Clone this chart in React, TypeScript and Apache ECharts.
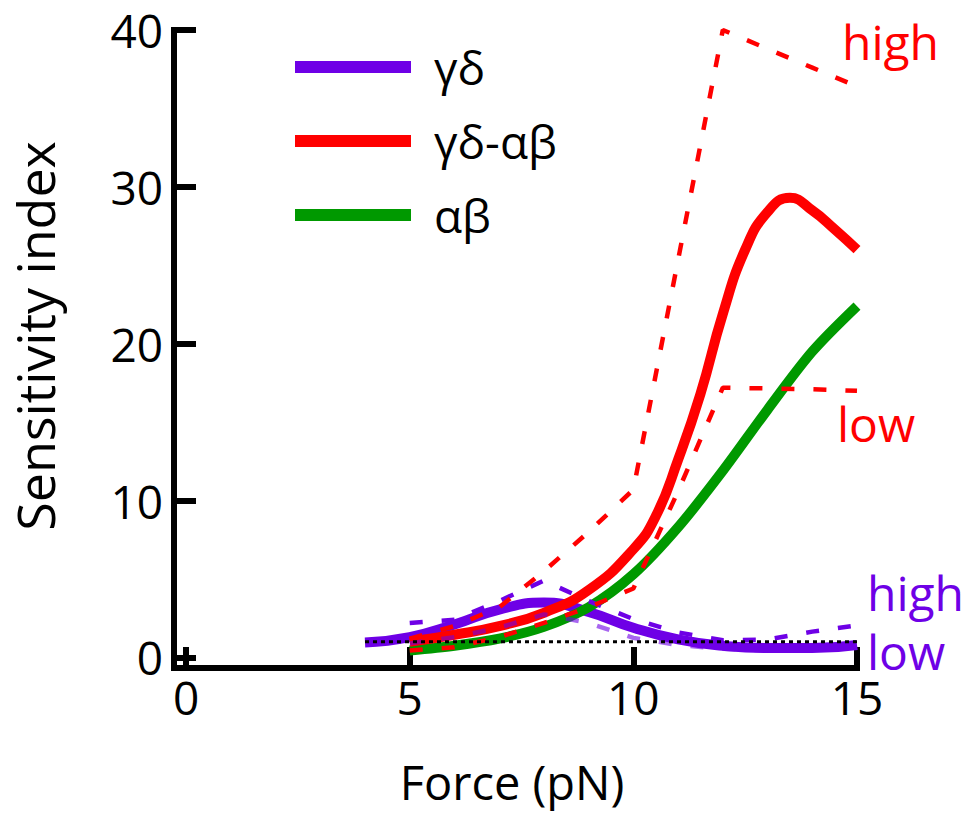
import React, { useEffect, useRef } from "react";
import * as echarts from "echarts";

// Force (pN) values
const forceX = [5, 6, 7, 8, 9, 10, 11, 12, 13, 14, 15];
const gdX = [4, 5, 6, 7, 8, 9, 10, 11, 12, 13, 14, 15];
const gdabX = [5, 6, 7, 8, 9, 10, 10.5, 11, 11.5, 12, 12.5, 13, 13.5, 14, 14.5, 15];

// Sensitivity index values
const gdMid = [0.95, 1.3, 2.1, 3.05, 3.5, 2.9, 1.9, 1.15, 0.75, 0.6, 0.6, 0.8];
const gdHigh = [2.2, 2.4, 3.6, 4.9, 3.6, 2.45, 1.6, 1.1, 1.15, 1.65, 2.05];
const gdLow = [0.9, 1.3, 1.9, 2.75, 2.2, 1.25, 0.8, 0.55, 0.45, 0.5, 0.7];
const gdabMid = [1.0, 1.45, 2.0, 2.85, 4.3, 6.9, 9.0, 12.6, 16.8, 21.9, 26.0, 28.4, 29.3, 28.5, 27.3, 26.0];
const gdabHigh = [1.2, 2.0, 3.2, 5.5, 8.0, 10.7, 25.35, 40, 38.8, 37.6, 36.4];
const gdabLow = [0.45, 0.65, 1.3, 2.2, 3.2, 4.4, 10.6, 17.2, 17.15, 17.1, 17.0];
const abMid = [0.45, 0.75, 1.2, 1.95, 3.2, 5.3, 8.3, 11.9, 15.8, 19.5, 22.4];
const baselineX = [4, 15];
const baselineY = [1, 1];

const xTicks = [0, 5, 10, 15];
const yTicks = [0, 10, 20, 30, 40];
const legendNames = ["γδ", "γδ-αβ", "αβ"];

const PURPLE = "#6E00E6";
const PURPLE_LIGHT = "rgba(110,0,230,0.6)";
const RED = "#FF0000";
const GREEN = "#009900";
const FONT = "Open Sans";

const pairs = (xs: number[], ys: number[]) => xs.map((x, i) => [x, ys[i]]);

export default function App() {
  const ref = useRef<HTMLDivElement>(null);
  useEffect(() => {
    document.body.style.margin = "0";
    const chart = echarts.init(ref.current!, null, { renderer: "svg" });
    const dash = [13, 19];
    const axisCommon = {
      type: "value" as const,
      axisLine: { show: true, onZero: false, lineStyle: { color: "#000", width: 6, cap: "square" } },
      splitLine: { show: false },
    };
    chart.setOption({
      animation: false,
      backgroundColor: "#fff",
      grid: { left: 174, right: 112, top: 30, bottom: 148, containLabel: false },
      xAxis: {
        ...axisCommon,
        min: -0.27,
        max: 15,
        axisTick: { show: true, inside: true, length: 21, customValues: xTicks, lineStyle: { color: "#000", width: 6 } },
        axisLabel: { customValues: xTicks, margin: 9, fontSize: 46, lineHeight: 40, color: "#000", fontFamily: FONT },
      },
      yAxis: {
        ...axisCommon,
        min: -0.67,
        max: 40,
        axisTick: { show: true, inside: true, length: 22, customValues: yTicks, lineStyle: { color: "#000", width: 6 } },
        axisLabel: { customValues: yTicks, margin: 11, fontSize: 46, lineHeight: 40, color: "#000", fontFamily: FONT },
      },
      legend: {
        data: legendNames,
        orient: "vertical",
        left: 295,
        top: 42,
        padding: 0,
        itemWidth: 134,
        itemHeight: 12,
        itemGap: 24,
        icon: "path://M0 0H116V12H0Z M134 0L134 12",
        itemStyle: { borderWidth: 0 },
        selectedMode: false,
        textStyle: { fontSize: 46, fontFamily: FONT, color: "#000", lineHeight: 50 },
      },
      graphic: [
        { type: "text", x: 512, y: 782, style: { text: "Force (pN)", fontSize: 47, fontFamily: FONT, fill: "#000", align: "center", verticalAlign: "middle" } },
        { type: "text", x: 34, y: 336, rotation: Math.PI / 2, style: { text: "Sensitivity index", fontSize: 52, fontFamily: FONT, fill: "#000", align: "center", verticalAlign: "middle" } },
        { type: "text", x: 842, y: 41, style: { text: "high", fontSize: 48, fontFamily: FONT, fill: RED, align: "left", verticalAlign: "middle" } },
        { type: "text", x: 837, y: 423, style: { text: "low", fontSize: 48, fontFamily: FONT, fill: RED, align: "left", verticalAlign: "middle" } },
        { type: "text", x: 867, y: 592, style: { text: "high", fontSize: 48, fontFamily: FONT, fill: PURPLE, align: "left", verticalAlign: "middle" } },
        { type: "text", x: 867, y: 651, style: { text: "low", fontSize: 48, fontFamily: FONT, fill: PURPLE, align: "left", verticalAlign: "middle" } },
      ],
      series: [
        { name: "γδ", type: "line", data: pairs(gdX, gdMid), smooth: 0.5, symbol: "none", clip: false, lineStyle: { color: PURPLE, width: 10 }, itemStyle: { color: PURPLE } },
        { name: "αβ", type: "line", data: pairs(forceX, abMid), smooth: 0.3, symbol: "none", clip: false, lineStyle: { color: GREEN, width: 10 }, itemStyle: { color: GREEN } },
        { name: "γδ-αβ", type: "line", data: pairs(gdabX, gdabMid), smooth: 0.5, symbol: "none", clip: false, lineStyle: { color: RED, width: 10 }, itemStyle: { color: RED } },
        { name: "γδ high", type: "line", data: pairs(forceX, gdHigh), smooth: false, symbol: "none", clip: false, lineStyle: { color: PURPLE, width: 4.5, type: dash } },
        { name: "γδ low", type: "line", data: pairs(forceX, gdLow), smooth: false, symbol: "none", clip: false, lineStyle: { color: PURPLE_LIGHT, width: 4.5, type: dash } },
        { name: "γδ-αβ high", type: "line", data: pairs(forceX, gdabHigh), smooth: false, symbol: "none", clip: false, lineStyle: { color: RED, width: 4.5, type: dash } },
        { name: "γδ-αβ low", type: "line", data: pairs(forceX, gdabLow), smooth: false, symbol: "none", clip: false, lineStyle: { color: RED, width: 4.5, type: dash } },
        { name: "baseline", type: "line", data: pairs(baselineX, baselineY), symbol: "none", clip: false, lineStyle: { color: "#000", width: 3, type: [4, 4] } },
      ],
    });
    return () => chart.dispose();
  }, []);
  return <div ref={ref} style={{ width: 969, height: 816 }} />;
}
